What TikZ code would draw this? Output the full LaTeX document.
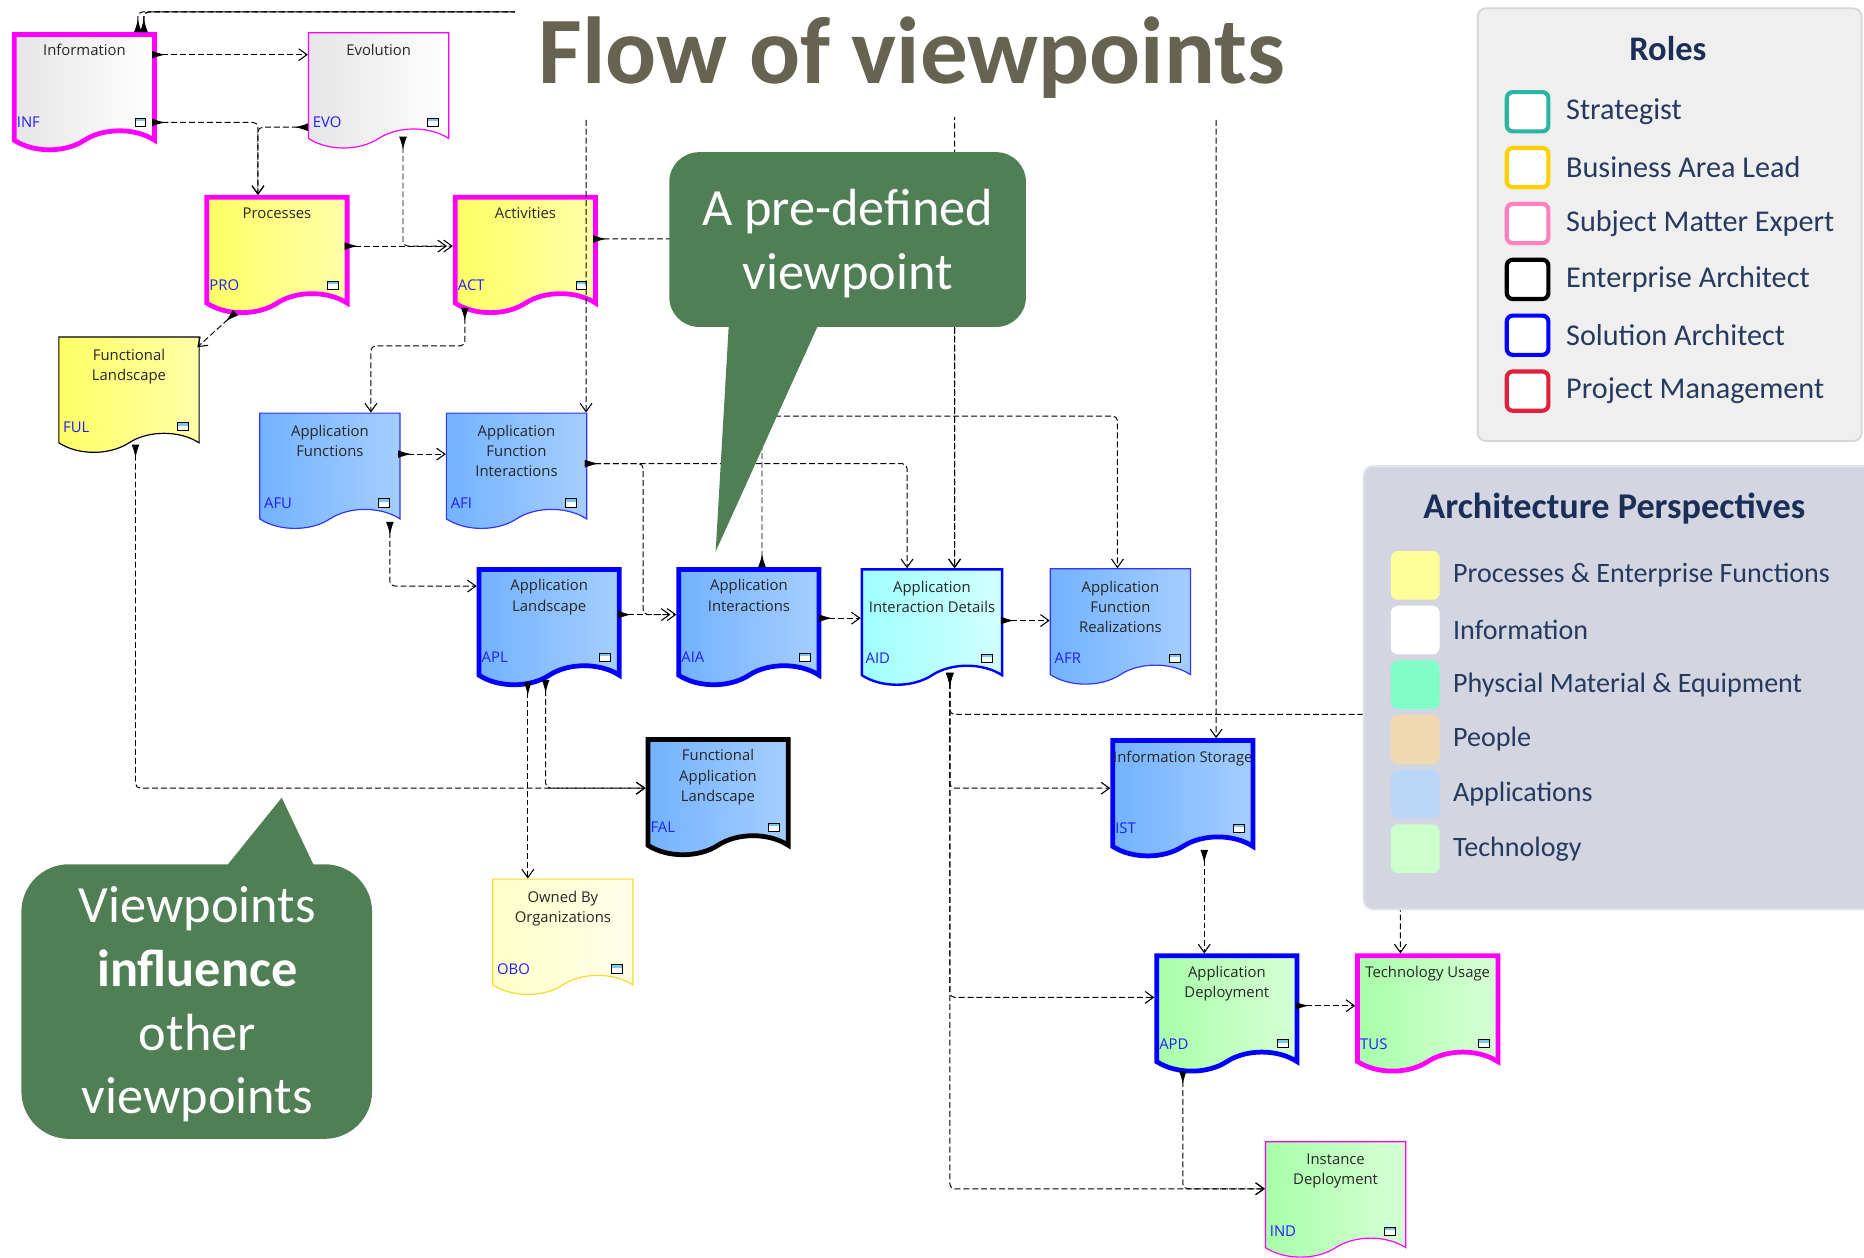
\documentclass[tikz,border=0pt]{standalone}
\usepackage{fontspec}
\setmainfont{Carlito}
\newfontfamily\boxfont{Open Sans}
\usetikzlibrary{arrows.meta,shapes.symbols,positioning}
\definecolor{vpmag}{RGB}{255,0,255}
\definecolor{vpblue}{RGB}{0,0,255}
\definecolor{thinblue}{RGB}{51,51,255}
\definecolor{codeblue}{RGB}{30,30,255}
\definecolor{iconblue}{RGB}{120,200,240}
\definecolor{obogold}{RGB}{255,215,40}
\definecolor{callgreen}{RGB}{81,127,85}
\definecolor{titlegrey}{RGB}{102,99,80}
\definecolor{legnavy}{RGB}{26,46,88}
\definecolor{legtext}{RGB}{38,58,96}
\definecolor{rolefill}{RGB}{239,239,239}
\definecolor{roledraw}{RGB}{214,214,214}
\definecolor{perspfill}{RGB}{211,214,224}
\definecolor{perspdraw}{RGB}{226,229,236}
\definecolor{roleteal}{RGB}{43,181,165}
\definecolor{rolegold}{RGB}{255,208,0}
\definecolor{rolepink}{RGB}{255,128,192}
\definecolor{rolered}{RGB}{224,32,60}
\definecolor{pyellow}{RGB}{255,255,153}
\definecolor{pmint}{RGB}{128,255,200}
\definecolor{ppeach}{RGB}{240,216,176}
\definecolor{pblue}{RGB}{188,214,248}
\definecolor{pgreen}{RGB}{204,255,204}
\begin{document}
\begin{tikzpicture}[x=1pt,y=-1pt,
    vp/.style 2 args={tape, tape bend top=none, tape bend bottom=in and out, tape bend height=16pt,
      minimum width=118pt, minimum height=97pt, inner sep=0pt, anchor=north west,
      label={[vptitle]north:#1}, label={[vpcode]north west:#2}, label={[vpicon]north east:}},
    vptitle/.style={anchor=north, yshift=-7pt, align=center, text=black!85,
      font=\boxfont\fontsize{12.5}{17}\selectfont},
    vpcode/.style={anchor=west, inner sep=1pt, xshift=3pt, yshift=-76pt, text=codeblue,
      font=\boxfont\fontsize{12.5}{15}\selectfont},
    vpicon/.style={anchor=east, draw=black, line width=.8pt, fill=white, minimum width=9pt,
      minimum height=7pt, inner sep=0pt, xshift=-9pt, yshift=-76pt,
      path picture={\fill[iconblue] (path picture bounding box.north west) rectangle ([yshift=-2.5pt]path picture bounding box.north east);}},
    infofill/.style={left color=black!10, right color=white},
    yelfill/.style={left color={rgb,255:red,255;green,255;blue,100}, right color={rgb,255:red,255;green,255;blue,170}},
    palefill/.style={left color={rgb,255:red,255;green,255;blue,200}, right color={rgb,255:red,255;green,255;blue,235}},
    bluefill/.style={left color={rgb,255:red,115;green,178;blue,255}, right color={rgb,255:red,165;green,206;blue,255}},
    cyanfill/.style={left color={rgb,255:red,160;green,255;blue,255}, right color={rgb,255:red,210;green,255;blue,255}},
    greenfill/.style={left color={rgb,255:red,168;green,255;blue,168}, right color={rgb,255:red,215;green,255;blue,215}},
    bthick/.style={line width=4pt},
    bmed/.style={line width=2pt},
    bthin/.style={line width=1pt},
    conn/.style={draw=black, line width=.8pt, dash pattern=on 5pt off 2.5pt, rounded corners=4pt,
      {Latex[reversed,length=11pt,width=6.5pt]}-{Straight Barb[length=7pt,width=10pt,line width=.9pt]}},
    legtitle/.style={font=\bfseries\fontsize{29}{34}\selectfont, text=legnavy},
    legtext/.style={font=\fontsize{24}{28}\selectfont, text=legtext, inner sep=2pt},
    rolesq/.style={draw, line width=3.5pt, fill=white, rounded corners=5pt, minimum width=35pt, minimum height=33pt},
    perspsq/.style={rounded corners=6pt, minimum width=41pt, minimum height=41pt},
    bubbletext/.style={text=white, align=center, font=\fontsize{44}{53.5}\selectfont}]
  \useasboundingbox (0,0) rectangle (1568,1058);
  \node[vp={Information}{INF}, infofill, draw=vpmag, bthick] (inf) at (10,27) {};
  \node[vp={Evolution}{EVO}, infofill, draw=vpmag, bthin] (evo) at (259,27) {};
  \node[vp={Processes}{PRO}, yelfill, draw=vpmag, bthick] (pro) at (172,164) {};
  \node[vp={Activities}{ACT}, yelfill, draw=vpmag, bthick] (act) at (381,164) {};
  \node[vp={Functional\\Landscape}{FUL}, yelfill, draw=black, bthin] (ful) at (49,283) {};
  \node[vp={Application\\Functions}{AFU}, bluefill, draw=thinblue, bthin] (afu) at (218,347) {};
  \node[vp={Application\\Function\\Interactions}{AFI}, bluefill, draw=thinblue, bthin] (afi) at (375,347) {};
  \node[vp={Application\\Landscape}{APL}, bluefill, draw=vpblue, bthick] (apl) at (401,477) {};
  \node[vp={Application\\Interactions}{AIA}, bluefill, draw=vpblue, bthick] (aia) at (569,477) {};
  \node[vp={Application\\Interaction Details}{AID}, cyanfill, draw=vpblue, bmed] (aid) at (724,478) {};
  \node[vp={Application\\Function\\Realizations}{AFR}, bluefill, draw=thinblue, bthin] (afr) at (883,478) {};
  \node[vp={Functional\\Application\\Landscape}{FAL}, bluefill, draw=black, bthick] (fal) at (543,620) {};
  \node[vp={Information Storage}{IST}, bluefill, draw=vpblue, bthick] (ist) at (934,621) {};
  \node[vp={Owned By\\Organizations}{OBO}, palefill, draw=obogold, bthin] (obo) at (414,739) {};
  \node[vp={Application\\Deployment}{APD}, greenfill, draw=vpblue, bthick] (apd) at (971,802) {};
  \node[vp={Technology Usage}{TUS}, greenfill, draw=vpmag, bthick] (tus) at (1140,802) {};
  \node[vp={Instance\\Deployment}{IND}, greenfill, draw=vpmag, bthin] (ind) at (1064,960) {};

  \draw[conn] ([shift={(118,19)}]inf.north west) -- ([shift={(0,19)}]evo.north west);
  \draw[conn] ([shift={(118,76)}]inf.north west) -| ([shift={(45,0)}]pro.north west);
  \draw[conn] ([shift={(0,80)}]evo.north west) -| ([shift={(45,0)}]pro.north west);
  \draw[conn] ([shift={(80,88)}]evo.north west) |- ([shift={(0,43)}]act.north west);
  \draw[conn] ([shift={(118,43)}]pro.north west) -- ([shift={(-5,43)}]act.north west);
  \draw[conn] ([shift={(118,37)}]act.north west) -| ([shift={(79,0)}]aid.north west);
  \draw[conn] ([shift={(10,95)}]act.north west) -- ++(0,32) -| ([shift={(94,0)}]afu.north west);
  \draw[conn] ([shift={(26,99)}]pro.north west) -- ([shift={(117,9)}]ful.north west);
  \draw[conn] ([shift={(106,0)}]inf.north west) -- ++(0,-17) -| ([shift={(118,0)}]afi.north west);
  \draw[conn] ([shift={(111,0)}]inf.north west) -- ++(0,-17) -| ([shift={(79,0)}]aid.north west);
  \draw[conn] ([shift={(111,0)}]inf.north west) -- ++(0,-17) -| ([shift={(89,0)}]ist.north west);
  \draw[conn] ([shift={(117,35)}]afu.north west) -- ([shift={(0,35)}]afi.north west);
  \draw[conn] ([shift={(117,43)}]afi.north west) -| ([shift={(39,0)}]aid.north west);
  \draw[conn] ([shift={(117,43)}]afi.north west) -- ++(49,0) |- ([shift={(-5,40)}]aia.north west);
  \draw[conn] ([shift={(110,92)}]afu.north west) |- ([shift={(0,16)}]apl.north west);
  \draw[conn] ([shift={(119,40)}]apl.north west) -- ([shift={(0,40)}]aia.north west);
  \draw[conn] ([shift={(120,43)}]aia.north west) -- ([shift={(0,42)}]aid.north west);
  \draw[conn] ([shift={(118,44)}]aid.north west) -- ([shift={(0,44)}]afr.north west);
  \draw[conn] ([shift={(72,0)}]aia.north west) -- ++(0,-127) -| ([shift={(57,0)}]afr.north west);
  \draw[conn] ([shift={(43,97)}]apl.north west) -- ([shift={(30,0)}]obo.north west);
  \draw[conn] ([shift={(58,95)}]apl.north west) |- ([shift={(0,43)}]fal.north west);
  \draw[conn] ([shift={(65,91)}]ful.north west) |- ([shift={(0,43)}]fal.north west);
  \draw[conn] ([shift={(75,88)}]aid.north west) |- ([shift={(0,42)}]ist.north west);
  \draw[conn] ([shift={(75,88)}]aid.north west) -- ++(0,35) -| ([shift={(38,0)}]tus.north west);
  \draw[conn] ([shift={(75,88)}]aid.north west) |- ([shift={(0,37)}]apd.north west);
  \draw[conn] ([shift={(75,88)}]aid.north west) |- ([shift={(0,40)}]ind.north west);
  \draw[conn] ([shift={(79,94)}]ist.north west) -- ([shift={(42,0)}]apd.north west);
  \draw[conn] ([shift={(119,44)}]apd.north west) -- ([shift={(0,44)}]tus.north west);
  \draw[conn] ([shift={(24,99)}]apd.north west) |- ([shift={(0,40)}]ind.north west);

  \fill[callgreen, rounded corners=25pt] (563,128) rectangle (863,275);
  \fill[callgreen] (613,274) -- (688,274) -- (602,464) -- cycle;
  \node[bubbletext] (predef) at (713,205) {A pre-defined\\viewpoint};
  \fill[callgreen, rounded corners=40pt] (18,727) rectangle (313,958);
  \fill[callgreen] (191,728) -- (264,728) -- (237,671) -- cycle;
  \node[bubbletext] (influence) at (166,845) {Viewpoints\\\textbf{influence}\\other\\viewpoints};

  \fill[white] (433,0) rectangle (1100,98);
  \node[anchor=base, text=titlegrey, font=\bfseries\fontsize{80}{96}\selectfont] (title) at (767,70) {Flow of viewpoints};

  \node[draw=roledraw, fill=rolefill, line width=1.5pt, rounded corners=7pt, minimum width=323pt, minimum height=364pt] (roles) at (1404.5,189) {};
  \node[legtitle] (roles-title) at (1403,41) {Roles};
  \foreach \c/\t [count=\i] in {roleteal/Strategist, rolegold/Business Area Lead, rolepink/Subject Matter Expert, black/Enterprise Architect, vpblue/Solution Architect, rolered/Project Management}{
    \node[rolesq, draw=\c] (role\i) at (1285,47+47*\i) {};
    \node[legtext, font=\fontsize{25.4}{29}\selectfont, right=11pt of role\i] (role\i-text) {\t};
  }
  \node[draw=perspdraw, fill=perspfill, line width=1.5pt, rounded corners=8pt, minimum width=443pt, minimum height=373pt] (persp) at (1368.5,578.5) {};
  \node[legtitle, font=\bfseries\fontsize{30.5}{36}\selectfont] (persp-title) at (1358,428) {Architecture Perspectives};
  \foreach \c/\t [count=\i] in {pyellow/Processes \& Enterprise Functions, white/Information, pmint/Physcial Material \& Equipment, ppeach/People, pblue/Applications, pgreen/Technology}{
    \node[perspsq, fill=\c] (persp\i) at (1190.5,438+46*\i) {};
    \node[legtext, font=\fontsize{23.6}{28}\selectfont, right=9pt of persp\i] (persp\i-text) {\t};
  }
\end{tikzpicture}
\end{document}
